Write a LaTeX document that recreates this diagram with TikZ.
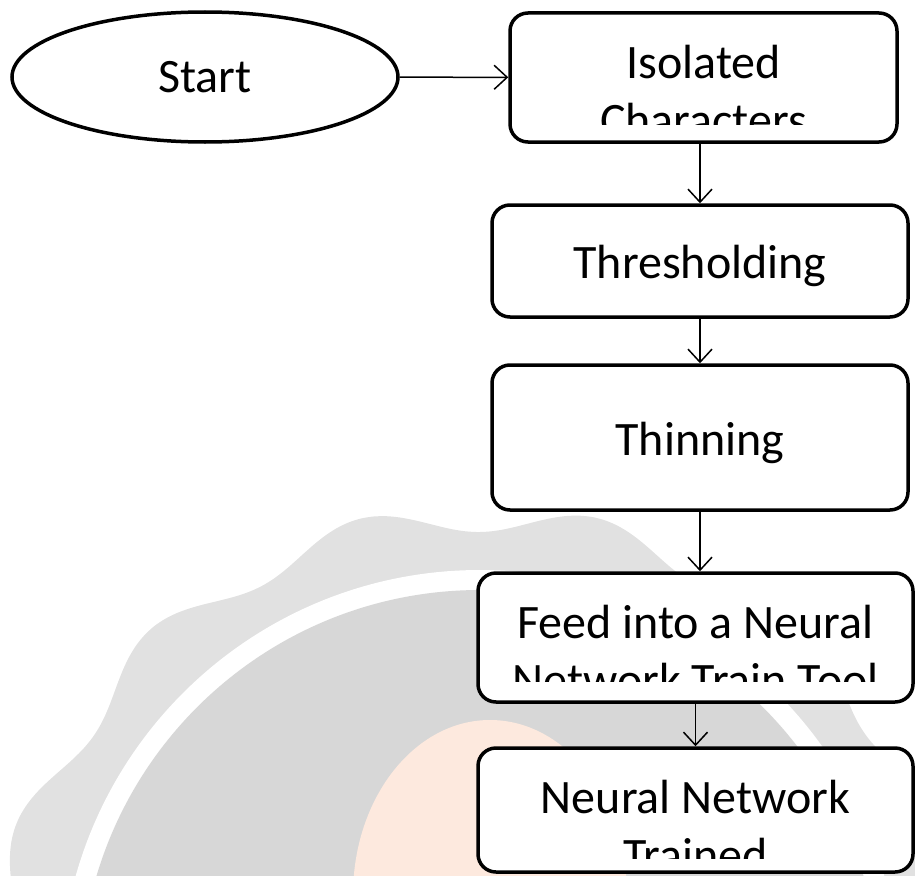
\documentclass[tikz,border=0pt]{standalone}
\usepackage{fontspec}
\setmainfont{Carlito}
\usetikzlibrary{positioning,arrows.meta,shapes.geometric}

\definecolor{gearlight}{HTML}{E1E1E1}
\definecolor{geardark}{HTML}{D7D7D7}
\definecolor{globe}{HTML}{FDE9DE}

\begin{document}
\begin{tikzpicture}[
    x=1pt, y=-1pt,
    font=\fontsize{48}{58}\selectfont,
    >={Straight Barb[length=13pt,width=24pt]},
    term/.style={draw=black, line width=3.5pt, fill=white, ellipse, inner sep=0pt},
    proc/.style={draw=black, line width=3.5pt, fill=white, rounded corners=18pt,
                 inner sep=0pt},
    lbl/.style={anchor=base, align=flush center, text width=420pt, inner sep=0pt},
    flow/.style={->, draw=black, line width=1.5pt},
]
\useasboundingbox (0,0) rectangle (915,875);

% ---- Watermark ----------------------------------------------------
\begin{scope}
    \clip (0,0) rectangle (915,875);
    \fill[gearlight, shift={(480,1000)}] plot[domain=0:360, samples=240, smooth cycle]
        (-\x:{482+14*cos(13*(\x-104))});
    \fill[white] (480,990) circle[radius=420];
    \fill[geardark] (480,990) circle[radius=400];
    \fill[globe] (490,895) ellipse[x radius=137, y radius=175];
\end{scope}

% ---- Nodes --------------------------------------------------------
\node[term, minimum width=386pt, minimum height=130pt] (start) at (205,77) {Start};
\node[proc, minimum width=387pt, minimum height=129pt] (isol) at (703.5,77.5) {};
\node[proc, minimum width=416pt, minimum height=112pt] (thresh) at (700,261) {};
\node[proc, minimum width=416pt, minimum height=145pt] (thin) at (700,437.5) {};
\node[proc, minimum width=435pt, minimum height=129pt] (feed) at (695.5,637.5) {};
\node[proc, minimum width=435pt, minimum height=124pt] (trained) at (695.5,810) {};

% ---- Labels (second lines cut off by the box) ---------------------
\begin{scope}
    \clip (isol.north west) rectangle ([yshift=19pt]isol.south east);
    \node[lbl] (isolT) at (703.5,78) {Isolated\\Characters};
\end{scope}
\node[lbl] (threshT) at (700,278) {Thresholding};
\node[lbl] (thinT) at (700,455) {Thinning};
\begin{scope}
    \clip (feed.north west) rectangle ([yshift=22pt]feed.south east);
    \node[lbl] (feedT) at (695.5,638) {Feed into a Neural\\Network Train Tool};
\end{scope}
\begin{scope}
    \clip (trained.north west) rectangle ([yshift=15pt]trained.south east);
    \node[lbl] (trainedT) at (695.5,813) {Neural Network\\Trained};
\end{scope}

% ---- Edges --------------------------------------------------------
\draw[flow] (start) -- (isol);
\draw[flow] (thresh.north |- isol.south) -- (thresh.north);
\draw[flow] (thresh) -- (thin);
\draw[flow] (thin) -- (thin.south |- feed.north);
\draw[flow] (feed) -- (trained);

\end{tikzpicture}
\end{document}
